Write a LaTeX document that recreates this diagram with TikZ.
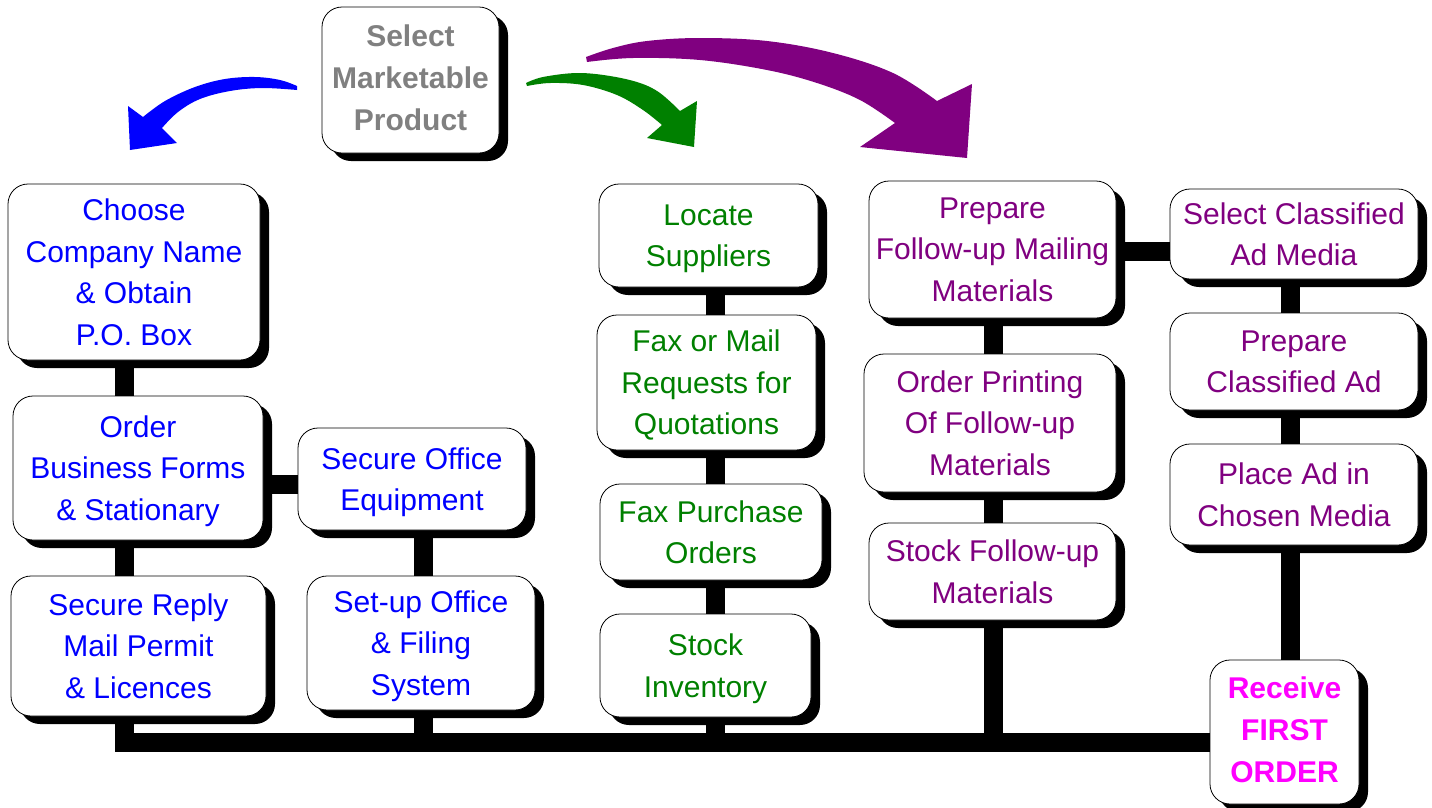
\documentclass[tikz,border=0pt]{standalone}
\usepackage{fontspec}
\setmainfont{Liberation Sans}
\usetikzlibrary{shadows,backgrounds}
\definecolor{cblue}{RGB}{0,0,255}
\definecolor{cgreen}{RGB}{0,128,0}
\definecolor{cpurple}{RGB}{128,0,128}
\definecolor{cgray}{RGB}{128,128,128}
\definecolor{cmag}{RGB}{255,0,255}
\begin{document}
\begin{tikzpicture}[x=1pt,y=-1pt,
  box/.style={draw=black, line width=0.8pt, fill=white, rounded corners=20pt,
    align=center, inner sep=0pt, text depth=0pt, font=\fontsize{30}{41.5}\selectfont,
    drop shadow={shadow xshift=9pt, shadow yshift=-8pt, fill=black, opacity=1}},
  bbox/.style={box, text depth=4pt, font=\fontsize{30}{42}\selectfont\bfseries},
  conn/.style={line width=19pt, line join=miter, line cap=butt, draw=black}]
\useasboundingbox (0,0) rectangle (1432,807);

% nodes
\node[bbox, minimum width=177pt, minimum height=146pt, text=cgray] (sel) at (410.5,80) {Select\\Marketable\\Product};

\node[box, minimum width=252pt, minimum height=176pt, text=cblue] (choose) at (134,272) {Choose\\Company Name\\\& Obtain\\P.O. Box};
\node[box, minimum width=250pt, minimum height=144pt, text=cblue] (order) at (138,468) {Order\\Business Forms\\\& Stationary};
\node[box, minimum width=228pt, minimum height=102pt, text=cblue] (office) at (412,479) {Secure Office\\Equipment};
\node[box, minimum width=255pt, minimum height=140pt, text=cblue] (reply) at (138.5,646) {Secure Reply\\Mail Permit\\\& Licences};
\node[box, minimum width=228pt, minimum height=134pt, text=cblue] (setup) at (421,643) {Set-up Office\\\& Filing\\System};

\node[box, minimum width=219pt, minimum height=103pt, text=cgreen] (locate) at (708.5,235.5) {Locate\\Suppliers};
\node[box, minimum width=219pt, minimum height=135pt, text=cgreen] (faxmail) at (706.5,382.5) {Fax or Mail\\Requests for\\Quotations};
\node[box, minimum width=222pt, minimum height=96pt, text=cgreen] (faxpo) at (711,532) {Fax Purchase\\Orders};
\node[box, minimum width=211pt, minimum height=103pt, text=cgreen] (stock) at (705.5,665.5) {Stock\\Inventory};

\node[box, minimum width=247pt, minimum height=137pt, text=cpurple] (prep) at (992.5,249.5) {Prepare\\Follow-up Mailing\\Materials};
\node[box, minimum width=252pt, minimum height=138pt, text=cpurple] (print) at (990,423) {Order Printing\\Of Follow-up\\Materials};
\node[box, minimum width=247pt, minimum height=97pt, text=cpurple] (stockfu) at (992.5,571.5) {Stock Follow-up\\Materials};

\node[box, minimum width=248pt, minimum height=90pt, text=cpurple] (selcl) at (1294,234) {Select Classified\\Ad Media};
\node[box, minimum width=248pt, minimum height=97pt, text=cpurple] (prepcl) at (1294,361.5) {Prepare\\Classified Ad};
\node[box, minimum width=248pt, minimum height=101pt, text=cpurple] (place) at (1294,494.5) {Place Ad in\\Chosen Media};

\node[bbox, minimum width=149pt, minimum height=144pt, text=cmag] (recv) at (1284.5,732) {Receive\\FIRST\\ORDER};

% helper coordinates for connector lines
\coordinate (bl) at (124,742);
\coordinate (h1) at (280,484);
\coordinate (x2) at (423,0);
\coordinate (x3) at (715,0);
\coordinate (x4) at (993,0);
\coordinate (h2) at (1140,251);
\coordinate (x5) at (1290,0);

\begin{scope}[on background layer]
  \draw[conn] (choose.south -| bl) -- (order.north -| bl);
  \draw[conn] (order.south -| bl) -- (reply.north -| bl);
  \draw[conn] (reply.south -| bl) -- (bl) -- (bl -| recv.west);
  \draw[conn] (order.east |- h1) -- (office.west |- h1);
  \draw[conn] (office.south -| x2) -- (setup.north -| x2);
  \draw[conn] (setup.south -| x2) -- (x2 |- bl);
  \draw[conn] (locate.south -| x3) -- (faxmail.north -| x3);
  \draw[conn] (faxmail.south -| x3) -- (faxpo.north -| x3);
  \draw[conn] (faxpo.south -| x3) -- (stock.north -| x3);
  \draw[conn] (stock.south -| x3) -- (x3 |- bl);
  \draw[conn] (prep.south -| x4) -- (print.north -| x4);
  \draw[conn] (print.south -| x4) -- (stockfu.north -| x4);
  \draw[conn] (stockfu.south -| x4) -- (x4 |- bl);
  \draw[conn] (prep.east |- h2) -- (selcl.west |- h2);
  \draw[conn] (selcl.south -| x5) -- (prepcl.north -| x5);
  \draw[conn] (prepcl.south -| x5) -- (place.north -| x5);
  \draw[conn] (place.south -| x5) -- (recv.north -| x5);
\end{scope}

% curved block arrows
\fill[cblue] plot[smooth, tension=0.6] coordinates {(297,86) (280,80) (255,77) (225,79) (195,87) (165,101) (143,117)}
  -- (128,106) -- (130,150) -- (177,143)
  -- plot[smooth, tension=0.6] coordinates {(162,128) (178,112) (200,99) (230,91) (262,88) (297,90)} -- cycle;

\fill[cgreen] plot[smooth, tension=0.6] coordinates {(526,83) (543,77) (577,73) (610,76) (640,83) (660,93) (680,111)}
  -- (697,101) -- (694,147) -- (647,138)
  -- plot[smooth, tension=0.6] coordinates {(662,125) (643,110) (617,95) (583,85) (550,83) (527,86)} -- cycle;

\fill[cpurple] plot[smooth, tension=0.6] coordinates {(586,57) (613,48) (647,41) (700,38) (767,41) (833,53) (893,73) (937,101)}
  -- (972,84) -- (967,158) -- (860,147)
  -- plot[smooth, tension=0.6] coordinates {(895,123) (860,100) (817,83) (767,70) (700,60) (633,58) (587,62)} -- cycle;
\end{tikzpicture}
\end{document}
